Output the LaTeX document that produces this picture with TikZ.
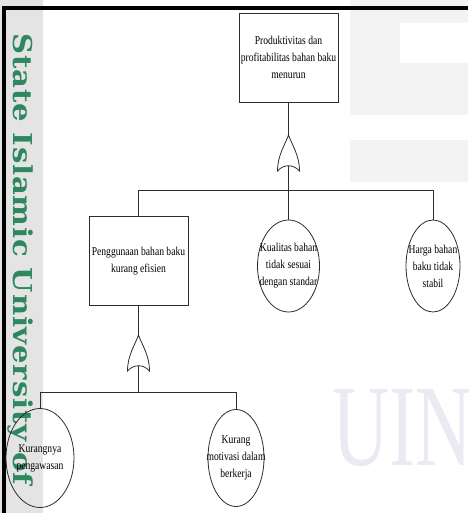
\documentclass[tikz,border=0pt]{standalone}
\usepackage{fontspec}
\setmainfont{Liberation Serif}
\newfontfamily\condfont[FakeStretch=0.8]{Liberation Serif}
\newfontfamily\uinfont[FakeStretch=0.68]{Liberation Serif}
\newfontfamily\wmfont[FakeStretch=1.12,LetterSpace=3]{DejaVu Serif}
\usepackage{tikz}
\usetikzlibrary{shapes.geometric}
\definecolor{wmgreen}{RGB}{45,135,95}
\definecolor{wmgray}{RGB}{228,228,228}
\definecolor{wmlight}{RGB}{243,243,243}
\definecolor{uinlav}{RGB}{234,234,245}
\definecolor{ftline}{RGB}{45,45,45}

\tikzset{
  fault/.style={draw=ftline, rectangle, minimum width=99, minimum height=89,
    align=center, inner sep=1, font=\condfont\fontsize{12}{17}\selectfont},
  etext/.style={align=center, inner sep=0, font=\condfont\fontsize{12}{17}\selectfont},
  basic/.style n args={3}{draw=ftline, ellipse, inner sep=0,
    minimum width=#1, minimum height=#2, label={[etext]center:#3}},
  orgate/.pic={
    \draw[ftline] (0,0) .. controls (-3,9) and (-11,20) .. (-11,36)
      .. controls (-5,29) and (5,29) .. (11,36)
      .. controls (11,20) and (3,9) .. (0,0) -- cycle;
    \coordinate (-in) at (0,0);
    \coordinate (-out) at (0,30.5);
  }
}

\begin{document}
\begin{tikzpicture}[x=1pt,y=-1pt,line width=0.8pt]
  \useasboundingbox (0,0) rectangle (468,513);
  % scan background: side strip, faint blocks, frame
  \fill[wmgray] (0,0) rectangle (43,513);
  \fill[wmlight] (350,0) rectangle (468,115);
  \fill[white] (400,23) rectangle (468,63);
  \fill[wmlight] (350,140) rectangle (468,182);
  \node[anchor=base west, inner sep=0, text=uinlav,
    font=\uinfont\fontsize{116}{116}\selectfont] (uin) at (332,465) {UIN};
  \node[rotate=-90, anchor=west, inner sep=0, text=wmgreen,
    font=\wmfont\bfseries\fontsize{26}{26}\selectfont] (wm) at (20,33)
    {State Islamic University of};
  \fill[black] (2,6) rectangle (468,10);
  \fill[black] (2,6) rectangle (6,513);

  % top event
  \node[fault] (top) at (288.5,57.5) {Produktivitas dan\\profitabilitas bahan baku\\menurun};
  \pic (g1) at (288.5,135) {orgate};
  \coordinate (bar1) at (288.5,190);

  % second level
  \node[fault] (peng) at (138.5,261) {Penggunaan bahan baku\\kurang efisien};
  \node[basic={62}{92}{Kualitas bahan\\tidak sesuai\\dengan standar}] (kual) at (288.5,266) {};
  \node[basic={54}{92}{Harga bahan\\baku tidak\\stabil}] (harga) at (433,266) {};
  \pic (g2) at (138.5,335) {orgate};
  \coordinate (bar2) at (138.5,392);

  % basic events
  \node[basic={68}{99}{Kurangnya\\pengawasan}] (kurangnya) at (40,458) {};
  \node[basic={56}{97}{Kurang\\motivasi dalam\\berkerja}] (kurang) at (236,458) {};

  \draw[ftline] (top) -- (g1-in);
  \draw[ftline] (g1-out) -- (bar1);
  \draw[ftline] (bar1) -| (peng);
  \draw[ftline] (bar1) -- (kual);
  \draw[ftline] (bar1) -| (harga);
  \draw[ftline] (peng) -- (g2-in);
  \draw[ftline] (g2-out) -- (bar2);
  \draw[ftline] (bar2) -| (kurangnya);
  \draw[ftline] (bar2) -| (kurang);
\end{tikzpicture}
\end{document}
